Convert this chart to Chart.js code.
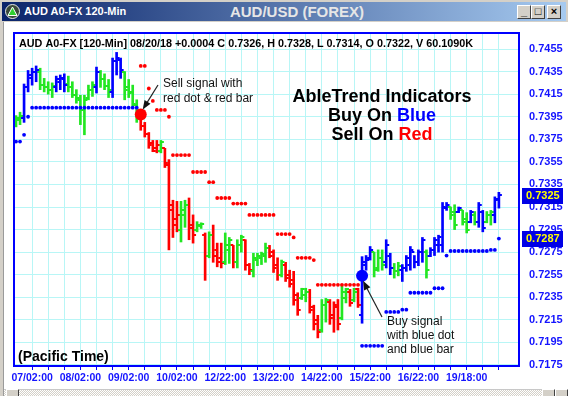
<!DOCTYPE html>
<html>
<head>
<meta charset="utf-8">
<script src="https://cdn.jsdelivr.net/npm/chart.js@4.4.0/dist/chart.umd.min.js"></script>
<style>
  html, body { margin: 0; padding: 0; }
  body { width: 568px; height: 396px; position: relative; overflow: hidden; background: #fff; font-family: Arial, "Liberation Sans", sans-serif; }
  #top { position: absolute; left: 0; top: 0; width: 568px; height: 22px; background: #d4d0c8; }
  #title { position: absolute; left: 2px; top: 2px; width: 564px; height: 19px; background: linear-gradient(to right, #0a246a, #a6caf0); }
  #icon { position: absolute; left: 3px; top: 2px; }
  #t1 { position: absolute; left: 22px; top: 3px; color: #fff; font: bold 11px Arial, "Liberation Sans", sans-serif; }
  #t2 { position: absolute; left: 0; width: 590px; text-align: center; top: 1px; color: #e6e6e6; font: bold 15px Arial, "Liberation Sans", sans-serif; }
  .btn { position: absolute; top: 3px; width: 12px; height: 12px; background: #d4d0c8; border: 1px solid; border-color: #fff #404040 #404040 #fff;
         font: bold 11px Arial, sans-serif; line-height: 11px; text-align: center; color: #000; }
  #left { position: absolute; left: 0; top: 22px; width: 3px; height: 374px; background: #d4d0c8; border-right: 1px solid #9a9a9a; }
  #scroll { position: absolute; left: 4px; top: 389px; width: 564px; height: 7px;
            background: repeating-conic-gradient(#d4d0c8 0 25%, #ffffff 0 50%) 0 0 / 2px 2px; border-top: 1px solid #c8c8c8; }
  .sbtn { position: absolute; top: 389px; width: 11px; height: 7px; background: #d4d0c8; border: 1px solid; border-color: #fff #404040 #404040 #fff; }
  #chart { position: absolute; left: 0; top: 0; }
</style>
</head>
<body>
<div id="top"></div>
<div id="title">
  <svg id="icon" width="15" height="15" viewBox="0 0 15 15">
    <circle cx="7.5" cy="7.5" r="7" fill="#3a4a3a" stroke="#e8e8e8" stroke-width="1"/>
    <polygon points="7.5,3 12,11.5 3,11.5" fill="#2fd02f" stroke="#fff" stroke-width="1"/>
  </svg>
  <span id="t1">AUD A0-FX 120-Min</span>
  <span id="t2">AUD/USD (FOREX)</span>
  <div class="btn" style="left:515px">_</div>
  <div class="btn" style="left:529px">&#9633;</div>
  <div class="btn" style="left:545px">&#215;</div>
</div>
<div id="left"></div>
<div id="scroll"></div>
<div class="sbtn" style="left:6px"></div>
<div class="sbtn" style="left:542px"></div>
<div class="sbtn" style="left:555px"></div>
<canvas id="chart" width="568" height="396"></canvas>
<script>
// x axis labels, one every 12 bars (three tick marks)
const xLabels = ['07/02:00', '08/02:00', '09/02:00', '10/02:00', '12/22:00', '13/22:00', '14/22:00', '15/22:00', '16/22:00', '19/18:00'];
const yTicks = [0.7175, 0.7195, 0.7215, 0.7235, 0.7255, 0.7275, 0.7295, 0.7315, 0.7335, 0.7355, 0.7375, 0.7395, 0.7415, 0.7435, 0.7455];

// bar colour per 120-min bar: B = blue (up trend), G = green (neutral), R = red (down trend)
const trend = ('GGBBBBGGGGBBBGGGGGGGBGGGBBBGGGG' +
               'RRRRRGRRRRGGRRGGRGRRRGGRGGRRGGGGR' +
               'RRGRRRRGGRRRGGRRRGGRGR' +
               'BBBGGGBBGGBBBBBBGBBBBBGGBGGBGBBGGBB').split('');

const highs = [
  0.7396, 0.7399, 0.7424, 0.7436, 0.7438, 0.7440, 0.7438, 0.7429, 0.7426, 0.7425,
  0.7431, 0.7432, 0.7433, 0.7431, 0.7426, 0.7419, 0.7414, 0.7414, 0.7423, 0.7426,
  0.7439, 0.7436, 0.7433, 0.7428, 0.7447, 0.7452, 0.7447, 0.7435, 0.7428, 0.7423,
  0.7410, 0.7399, 0.7390, 0.7381, 0.7374, 0.7374, 0.7374, 0.7367, 0.7357, 0.7321,
  0.7320, 0.7320, 0.7321, 0.7323, 0.7308, 0.7302, 0.7301, 0.7292, 0.7293, 0.7299,
  0.7283, 0.7283, 0.7292, 0.7288, 0.7281, 0.7286, 0.7290, 0.7286, 0.7265, 0.7274,
  0.7274, 0.7275, 0.7283, 0.7281, 0.7277, 0.7270, 0.7268, 0.7266, 0.7259, 0.7258,
  0.7239, 0.7243, 0.7243, 0.7242, 0.7228, 0.7219, 0.7233, 0.7234, 0.7233, 0.7231,
  0.7233, 0.7246, 0.7243, 0.7242, 0.7243, 0.7243, 0.7271, 0.7272, 0.7280, 0.7275,
  0.7277, 0.7277, 0.7286, 0.7274, 0.7265, 0.7266, 0.7264, 0.7272, 0.7280, 0.7272,
  0.7277, 0.7288, 0.7277, 0.7279, 0.7288, 0.7290, 0.7319, 0.7319, 0.7315, 0.7317,
  0.7315, 0.7312, 0.7310, 0.7312, 0.7311, 0.7319, 0.7312, 0.7311, 0.7312, 0.7324,
  0.7328
];
const lows = [
  0.7386, 0.7388, 0.7390, 0.7417, 0.7423, 0.7426, 0.7419, 0.7417, 0.7415, 0.7412,
  0.7417, 0.7419, 0.7417, 0.7417, 0.7412, 0.7407, 0.7388, 0.7379, 0.7410, 0.7413,
  0.7416, 0.7421, 0.7419, 0.7412, 0.7412, 0.7432, 0.7429, 0.7410, 0.7412, 0.7403,
  0.7390, 0.7383, 0.7377, 0.7367, 0.7364, 0.7363, 0.7363, 0.7350, 0.7277, 0.7288,
  0.7293, 0.7284, 0.7297, 0.7286, 0.7283, 0.7293, 0.7296, 0.7250, 0.7270, 0.7266,
  0.7262, 0.7261, 0.7264, 0.7265, 0.7261, 0.7261, 0.7275, 0.7259, 0.7255, 0.7253,
  0.7263, 0.7264, 0.7266, 0.7270, 0.7257, 0.7250, 0.7253, 0.7249, 0.7244, 0.7228,
  0.7219, 0.7233, 0.7231, 0.7221, 0.7206, 0.7199, 0.7204, 0.7213, 0.7211, 0.7204,
  0.7206, 0.7215, 0.7230, 0.7227, 0.7231, 0.7226, 0.7212, 0.7259, 0.7268, 0.7253,
  0.7258, 0.7259, 0.7261, 0.7255, 0.7252, 0.7254, 0.7249, 0.7258, 0.7259, 0.7261,
  0.7263, 0.7266, 0.7252, 0.7271, 0.7272, 0.7275, 0.7275, 0.7312, 0.7304, 0.7295,
  0.7310, 0.7299, 0.7292, 0.7301, 0.7299, 0.7297, 0.7293, 0.7301, 0.7299, 0.7301,
  0.7314
];
const opens = [
  0.7388, 0.7392, 0.7394, 0.7421, 0.7429, 0.7435, 0.7435, 0.7423, 0.7421, 0.7419,
  0.7421, 0.7426, 0.7428, 0.7424, 0.7421, 0.7414, 0.7410, 0.7401, 0.7412, 0.7419,
  0.7421, 0.7435, 0.7428, 0.7422, 0.7417, 0.7444, 0.7445, 0.7435, 0.7421, 0.7417,
  0.7405, 0.7397, 0.7387, 0.7380, 0.7372, 0.7367, 0.7365, 0.7367, 0.7352, 0.7317,
  0.7304, 0.7295, 0.7308, 0.7317, 0.7299, 0.7295, 0.7298, 0.7290, 0.7272, 0.7290,
  0.7277, 0.7270, 0.7266, 0.7277, 0.7281, 0.7266, 0.7281, 0.7286, 0.7264, 0.7258,
  0.7268, 0.7270, 0.7272, 0.7279, 0.7275, 0.7264, 0.7255, 0.7264, 0.7255, 0.7250,
  0.7237, 0.7234, 0.7237, 0.7240, 0.7226, 0.7215, 0.7206, 0.7228, 0.7231, 0.7219,
  0.7226, 0.7217, 0.7234, 0.7240, 0.7233, 0.7242, 0.7219, 0.7264, 0.7270, 0.7275,
  0.7261, 0.7270, 0.7266, 0.7272, 0.7261, 0.7258, 0.7259, 0.7261, 0.7264, 0.7275,
  0.7266, 0.7275, 0.7275, 0.7272, 0.7277, 0.7281, 0.7281, 0.7314, 0.7315, 0.7311,
  0.7311, 0.7312, 0.7304, 0.7302, 0.7308, 0.7302, 0.7311, 0.7302, 0.7308, 0.7308,
  0.7322
];
const closes = [
  0.7394, 0.7396, 0.7421, 0.7432, 0.7435, 0.7436, 0.7423, 0.7421, 0.7419, 0.7422,
  0.7428, 0.7429, 0.7423, 0.7421, 0.7414, 0.7412, 0.7401, 0.7410, 0.7419, 0.7423,
  0.7435, 0.7428, 0.7422, 0.7419, 0.7444, 0.7447, 0.7436, 0.7419, 0.7416, 0.7406,
  0.7394, 0.7387, 0.7380, 0.7370, 0.7365, 0.7370, 0.7373, 0.7354, 0.7312, 0.7299,
  0.7308, 0.7312, 0.7317, 0.7296, 0.7290, 0.7299, 0.7300, 0.7272, 0.7290, 0.7272,
  0.7266, 0.7265, 0.7281, 0.7286, 0.7266, 0.7281, 0.7288, 0.7264, 0.7259, 0.7270,
  0.7272, 0.7273, 0.7279, 0.7272, 0.7261, 0.7255, 0.7266, 0.7252, 0.7247, 0.7233,
  0.7224, 0.7242, 0.7240, 0.7224, 0.7211, 0.7204, 0.7228, 0.7233, 0.7217, 0.7228,
  0.7211, 0.7240, 0.7242, 0.7230, 0.7240, 0.7228, 0.7266, 0.7268, 0.7277, 0.7259,
  0.7270, 0.7264, 0.7281, 0.7261, 0.7258, 0.7263, 0.7261, 0.7270, 0.7277, 0.7266,
  0.7275, 0.7286, 0.7259, 0.7277, 0.7286, 0.7288, 0.7315, 0.7317, 0.7308, 0.7299,
  0.7314, 0.7302, 0.7295, 0.7311, 0.7302, 0.7317, 0.7296, 0.7308, 0.7311, 0.7321,
  0.7326
];
// AbleTrend stop dots
const stops = [
  0.7373, 0.7373, 0.7379, 0.7395, 0.7403, 0.7403, 0.7403, 0.7403, 0.7403, 0.7403,
  0.7403, 0.7403, 0.7403, 0.7403, 0.7403, 0.7403, 0.7403, 0.7403, 0.7403, 0.7403,
  0.7403, 0.7403, 0.7403, 0.7403, 0.7403, 0.7403, 0.7403, 0.7403, 0.7403, 0.7403,
  0.7403, 0.7440, 0.7440, 0.7420, 0.7409, 0.7401, 0.7401, 0.7401, 0.7395, 0.7361,
  0.7361, 0.7361, 0.7361, 0.7361, 0.7346, 0.7346, 0.7346, 0.7346, 0.7337, 0.7337,
  0.7323, 0.7323, 0.7323, 0.7323, 0.7318, 0.7318, 0.7318, 0.7318, 0.7308, 0.7308,
  0.7308, 0.7308, 0.7308, 0.7308, 0.7308, 0.7291, 0.7291, 0.7291, 0.7291, 0.7288,
  0.7270, 0.7270, 0.7270, 0.7270, 0.7268, 0.7246, 0.7246, 0.7246, 0.7246, 0.7246,
  0.7246, 0.7246, 0.7246, 0.7246, 0.7246, 0.7246, 0.7192, 0.7192, 0.7192, 0.7192,
  0.7192, 0.7192, 0.7222, 0.7222, 0.7222, 0.7222, 0.7224, 0.7224, 0.7239, 0.7239,
  0.7239, 0.7239, 0.7239, 0.7239, 0.7243, 0.7243, 0.7243, 0.7272, 0.7276, 0.7276,
  0.7276, 0.7276, 0.7276, 0.7276, 0.7276, 0.7276, 0.7276, 0.7276, 0.7277, 0.7277,
  0.7287
];
const sellSignal = { i: 31, price: 0.7397 };
const buySignal = { i: 86, price: 0.7254 };
const lastPriceTag = 0.7325;
const stopPriceTag = 0.7287;

const colors = { B: '#0000ff', G: '#22e622', R: '#ff0000' };
const FONT = 'Arial, "Liberation Sans", sans-serif';

const barSets = ['B', 'G', 'R'].map(t => ({
  type: 'bar',
  ohlc: true,
  backgroundColor: colors[t],
  barThickness: 2,
  grouped: false,
  order: 3,
  data: highs.map((h, i) => ({ x: i, y: [lows[i], h], o: opens[i], c: closes[i], t: trend[i] }))
             .filter(p => p.t === t)
}));

const stopTrend = i => (i >= sellSignal.i && i < buySignal.i) ? 'R' : 'B';
const dotSets = ['B', 'R'].map(t => ({
  type: 'scatter',
  backgroundColor: colors[t],
  borderWidth: 0,
  pointRadius: 1.9,
  order: 2,
  data: stops.map((v, i) => ({ x: i, y: v })).filter(p => stopTrend(p.x) === t)
}));

const signalSet = {
  type: 'scatter',
  data: [{ x: sellSignal.i, y: sellSignal.price }, { x: buySignal.i, y: buySignal.price }],
  backgroundColor: ['#ff0000', '#0000ff'],
  borderWidth: 0,
  pointRadius: 6,
  order: 1
};

function arrow(ctx, x1, y1, x2, y2) {
  const a = Math.atan2(y2 - y1, x2 - x1);
  ctx.beginPath();
  ctx.moveTo(x1, y1);
  ctx.lineTo(x2 - 6 * Math.cos(a), y2 - 6 * Math.sin(a));
  ctx.stroke();
  ctx.beginPath();
  ctx.moveTo(x2, y2);
  ctx.lineTo(x2 - 9 * Math.cos(a) + 3.5 * Math.sin(a), y2 - 9 * Math.sin(a) - 3.5 * Math.cos(a));
  ctx.lineTo(x2 - 9 * Math.cos(a) - 3.5 * Math.sin(a), y2 - 9 * Math.sin(a) + 3.5 * Math.cos(a));
  ctx.closePath();
  ctx.fill();
}

const decor = {
  id: 'decor',
  afterDatasetDraw(chart, args) {
    const ds = chart.data.datasets[args.index];
    if (!ds.ohlc) return;
    const ctx = chart.ctx, y = chart.scales.y;
    ctx.save();
    ctx.strokeStyle = ds.backgroundColor;
    ctx.lineWidth = 2;
    ctx.beginPath();
    args.meta.data.forEach((el, j) => {
      const p = ds.data[j];
      const yo = Math.round(y.getPixelForValue(p.o));
      const yc = Math.round(y.getPixelForValue(p.c));
      ctx.moveTo(el.x - 3, yo); ctx.lineTo(el.x, yo);
      ctx.moveTo(el.x, yc); ctx.lineTo(el.x + 3, yc);
    });
    ctx.stroke();
    ctx.restore();
  },
  afterDraw(chart) {
    const { ctx, chartArea: a, scales: { x, y } } = chart;
    ctx.save();
    // plot frame
    ctx.strokeStyle = '#0000ff';
    ctx.lineWidth = 2;
    ctx.strokeRect(a.left, a.top, a.right - a.left, a.bottom - a.top);

    ctx.textBaseline = 'middle';
    ctx.fillStyle = '#000';
    ctx.font = 'bold 10.8px ' + FONT;
    ctx.fillText('AUD A0-FX [120-Min] 08/20/18 +0.0004 C 0.7326, H 0.7328, L 0.7314, O 0.7322, V 60.1090K', 19, 44);

    // headline
    ctx.font = 'bold 18px ' + FONT;
    ctx.textAlign = 'center';
    ctx.fillText('AbleTrend Indicators', 382, 97);
    const line = (parts, cy) => {
      const w = parts.reduce((s, p) => s + ctx.measureText(p[0]).width, 0);
      let cx = 382 - w / 2;
      ctx.textAlign = 'left';
      parts.forEach(p => { ctx.fillStyle = p[1]; ctx.fillText(p[0], cx, cy); cx += ctx.measureText(p[0]).width; });
    };
    line([['Buy On ', '#000'], ['Blue', '#0000ff']], 116);
    line([['Sell On ', '#000'], ['Red', '#ff0000']], 135);

    ctx.fillStyle = '#000';
    ctx.textAlign = 'left';
    ctx.font = 'bold 14px ' + FONT;
    ctx.fillText('(Pacific Time)', 18, 357);

    // signal notes
    ctx.font = '12px ' + FONT;
    ctx.fillStyle = '#111';
    ctx.fillText('Sell signal with', 163, 84);
    ctx.fillText('red dot & red bar', 163, 99);
    ctx.fillText('Buy signal', 387, 322);
    ctx.fillText('with blue dot', 387, 336);
    ctx.fillText('and blue bar', 387, 350);
    ctx.strokeStyle = '#222';
    ctx.fillStyle = '#111';
    ctx.lineWidth = 1.2;
    const sx = x.getPixelForValue(sellSignal.i), sy = y.getPixelForValue(sellSignal.price);
    arrow(ctx, 158, 85, sx + 2, sy - 5);
    const bx = x.getPixelForValue(buySignal.i), by = y.getPixelForValue(buySignal.price);
    arrow(ctx, 382, 317, bx + 1, by + 5);

    // price tags on the right axis
    ctx.font = 'bold 11px ' + FONT;
    [lastPriceTag, stopPriceTag].forEach(v => {
      const py = Math.round(y.getPixelForValue(v));
      ctx.fillStyle = '#0000e6';
      ctx.fillRect(a.right + 3, py - 8, 41, 16);
      ctx.fillStyle = '#ffff00';
      ctx.textAlign = 'left';
      ctx.fillText(v.toFixed(4), a.right + 7, py);
    });
    ctx.restore();
  }
};

new Chart(document.getElementById('chart'), {
  type: 'bar',
  data: { datasets: [...barSets, ...dotSets, signalSet] },
  options: {
    responsive: false,
    animation: false,
    events: [],
    layout: { padding: { left: 14, top: 33, right: 0, bottom: 0 } },
    plugins: { legend: { display: false }, tooltip: { enabled: false } },
    scales: {
      x: {
        type: 'linear',
        min: -0.5,
        max: 125,
        offset: false,
        afterFit: s => { s.height = 30; },
        afterBuildTicks: s => { s.ticks = s.ticks.filter(t => t.value >= 0 && t.value <= 120); },
        grid: { color: '#b8f6f6', offset: false, tickLength: 4, tickColor: '#0000ff', tickWidth: 1 },
        border: { color: '#0000ff', width: 2 },
        ticks: {
          stepSize: 4,
          autoSkip: false,
          maxRotation: 0,
          padding: 2,
          color: '#1414ff',
          font: { family: FONT, size: 10.5, weight: 'bold' },
          callback: v => {
            const k = (v - 4) / 12;
            return Number.isInteger(k) && k >= 0 && k < xLabels.length ? xLabels[k] : '';
          }
        }
      },
      y: {
        position: 'right',
        min: 0.71741,
        max: 0.74692,
        afterFit: s => { s.width = 49; },
        afterBuildTicks: s => { s.ticks = yTicks.map(v => ({ value: v })); },
        grid: { color: '#b8f6f6', drawTicks: false },
        border: { color: '#0000ff', width: 2 },
        ticks: {
          padding: 10,
          color: '#1414ff',
          font: { family: FONT, size: 11, weight: 'bold' },
          callback: v => v.toFixed(4)
        }
      }
    }
  },
  plugins: [decor]
});
</script>
</body>
</html>
